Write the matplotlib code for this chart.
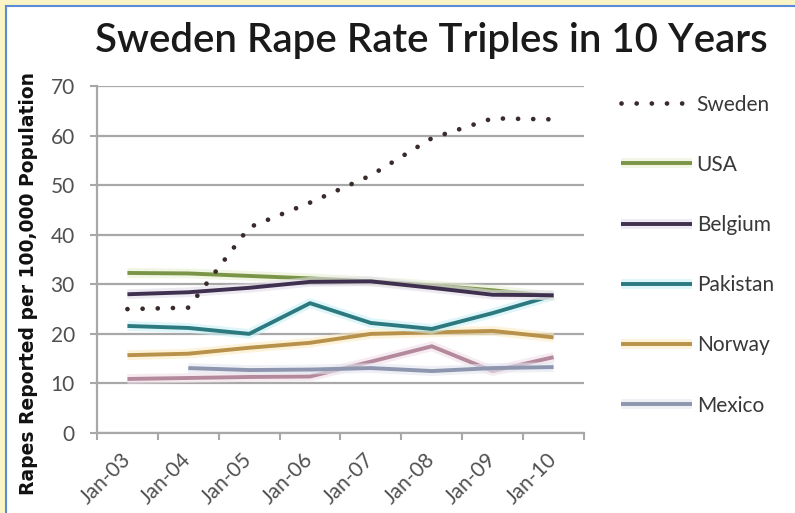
import numpy as np
import matplotlib
matplotlib.use('Agg')
import matplotlib.pyplot as plt
import matplotlib.patheffects as pe
from matplotlib.patches import Rectangle
from matplotlib.lines import Line2D

# Values (one point per January)
years = ['Jan-03', 'Jan-04', 'Jan-05', 'Jan-06', 'Jan-07', 'Jan-08', 'Jan-09', 'Jan-10']
sweden = [25.0, 25.3, 41.5, 46.5, 52.0, 59.5, 63.5, 63.3]
usa = [32.3, 32.2, 31.7, 31.2, 30.6, 29.8, 28.8, 27.6]
belgium = [28.0, 28.4, 29.3, 30.5, 30.6, 29.3, 27.9, 27.8]
pakistan = [21.6, 21.2, 20.0, 26.2, 22.2, 21.0, 24.2, 27.8]
norway = [15.7, 16.0, 17.2, 18.2, 20.0, 20.3, 20.6, 19.3]
mexico = [np.nan, 13.1, 12.7, 12.8, 13.1, 12.5, 13.1, 13.3]
unlabelled = [10.9, 11.1, 11.3, 11.4, 14.4, 17.5, 12.5, 15.3]

plt.rcParams['font.family'] = ['Lato', 'DejaVu Sans']

fig = plt.figure(figsize=(7.95, 5.13), dpi=100)
ax = fig.add_axes([0.122, 0.156, 0.6126, 0.676])

x = np.arange(len(years))

def glow(c):
    return [pe.Stroke(linewidth=7, foreground=c, alpha=0.6), pe.Normal()]

# unlabelled series drawn first (sits under the others)
ax.plot(x, unlabelled, color='#b3899b', lw=2.8, path_effects=glow('#f0dfe6'),
        label='_nolegend_', solid_capstyle='butt')
ax.plot(x, mexico, color='#8e95ae', lw=2.8, path_effects=glow('#e3e6f0'),
        label='Mexico', solid_capstyle='butt')
ax.plot(x, norway, color='#b8924a', lw=2.8, path_effects=glow('#fcebc4'),
        label='Norway', solid_capstyle='butt')
ax.plot(x, pakistan, color='#2c7a80', lw=2.8, path_effects=glow('#c8f1f6'),
        label='Pakistan', solid_capstyle='butt')
ax.plot(x, usa, color='#7b9548', lw=2.8, path_effects=glow('#e6efd2'),
        label='USA', solid_capstyle='butt')
ax.plot(x, belgium, color='#3f3050', lw=2.8, path_effects=glow('#e2dcea'),
        label='Belgium', solid_capstyle='butt')
ax.plot(x, sweden, color='#3a2b2b', lw=3.4, linestyle=(0, (0.01, 3.2)),
        dash_capstyle='round', label='Sweden')

ax.set_xlim(-0.5, len(years) - 0.5)
ax.set_ylim(0, 70)
ax.set_yticks(range(0, 71, 10))
ax.yaxis.grid(True, color='#a8a8a8', lw=1.6)
ax.set_axisbelow(True)

ax.set_xticks(np.arange(-0.5, len(years)), minor=False)
ax.set_xticklabels([])
ax.set_xticks(x, minor=True)
ax.set_xticklabels(years, minor=True, rotation=45, ha='right', va='center',
                   rotation_mode='anchor', fontsize=15, color='#505050')
ax.tick_params(axis='x', which='minor', length=0, pad=17)
ax.tick_params(axis='x', which='major', length=5, width=1.5, color='#a8a8a8',
               direction='out')
ax.tick_params(axis='y', length=5, width=1.5, color='#a8a8a8', pad=11,
               labelsize=15, labelcolor='#505050')

for s in ['top', 'right']:
    ax.spines[s].set_visible(False)
for s in ['left', 'bottom']:
    ax.spines[s].set_color('#a8a8a8')
    ax.spines[s].set_linewidth(1.6)

handles, labels = ax.get_legend_handles_labels()
order = ['Sweden', 'USA', 'Belgium', 'Pakistan', 'Norway', 'Mexico']
hmap = dict(zip(labels, handles))
fig.legend([hmap[k] for k in order], order, loc='upper left',
           bbox_to_anchor=(0.765, 0.84), frameon=False, fontsize=15,
           handlelength=3.4, handletextpad=0.25, labelspacing=1.93,
           borderaxespad=0.2, labelcolor='#383838')

fig.text(0.543, 0.922, 'Sweden Rape Rate Triples in 10 Years', ha='center',
         va='center', fontsize=29, fontweight='semibold', color='#1a1a1a')
fig.text(0.036, 0.448, 'Rapes Reported per 100,000 Population', rotation=90,
         ha='center', va='center', fontsize=13.5, fontweight='bold',
         family='DejaVu Sans', color='#111111')

# frame at top and left of the screenshot
fig.patches.append(Rectangle((0, 0.99), 1, 0.01, transform=fig.transFigure,
                             color='#fbf5c6', zorder=0))
fig.patches.append(Rectangle((0, 0), 0.0075, 1, transform=fig.transFigure,
                             color='#fbf5c6', zorder=0))
fig.lines.append(Line2D([0.008, 1], [0.988, 0.988], transform=fig.transFigure,
                        color='#5b8bd6', lw=1.5))
fig.lines.append(Line2D([0.008, 0.008], [0, 0.988], transform=fig.transFigure,
                        color='#5b8bd6', lw=1.5))

fig.savefig('out.png', dpi=100)
